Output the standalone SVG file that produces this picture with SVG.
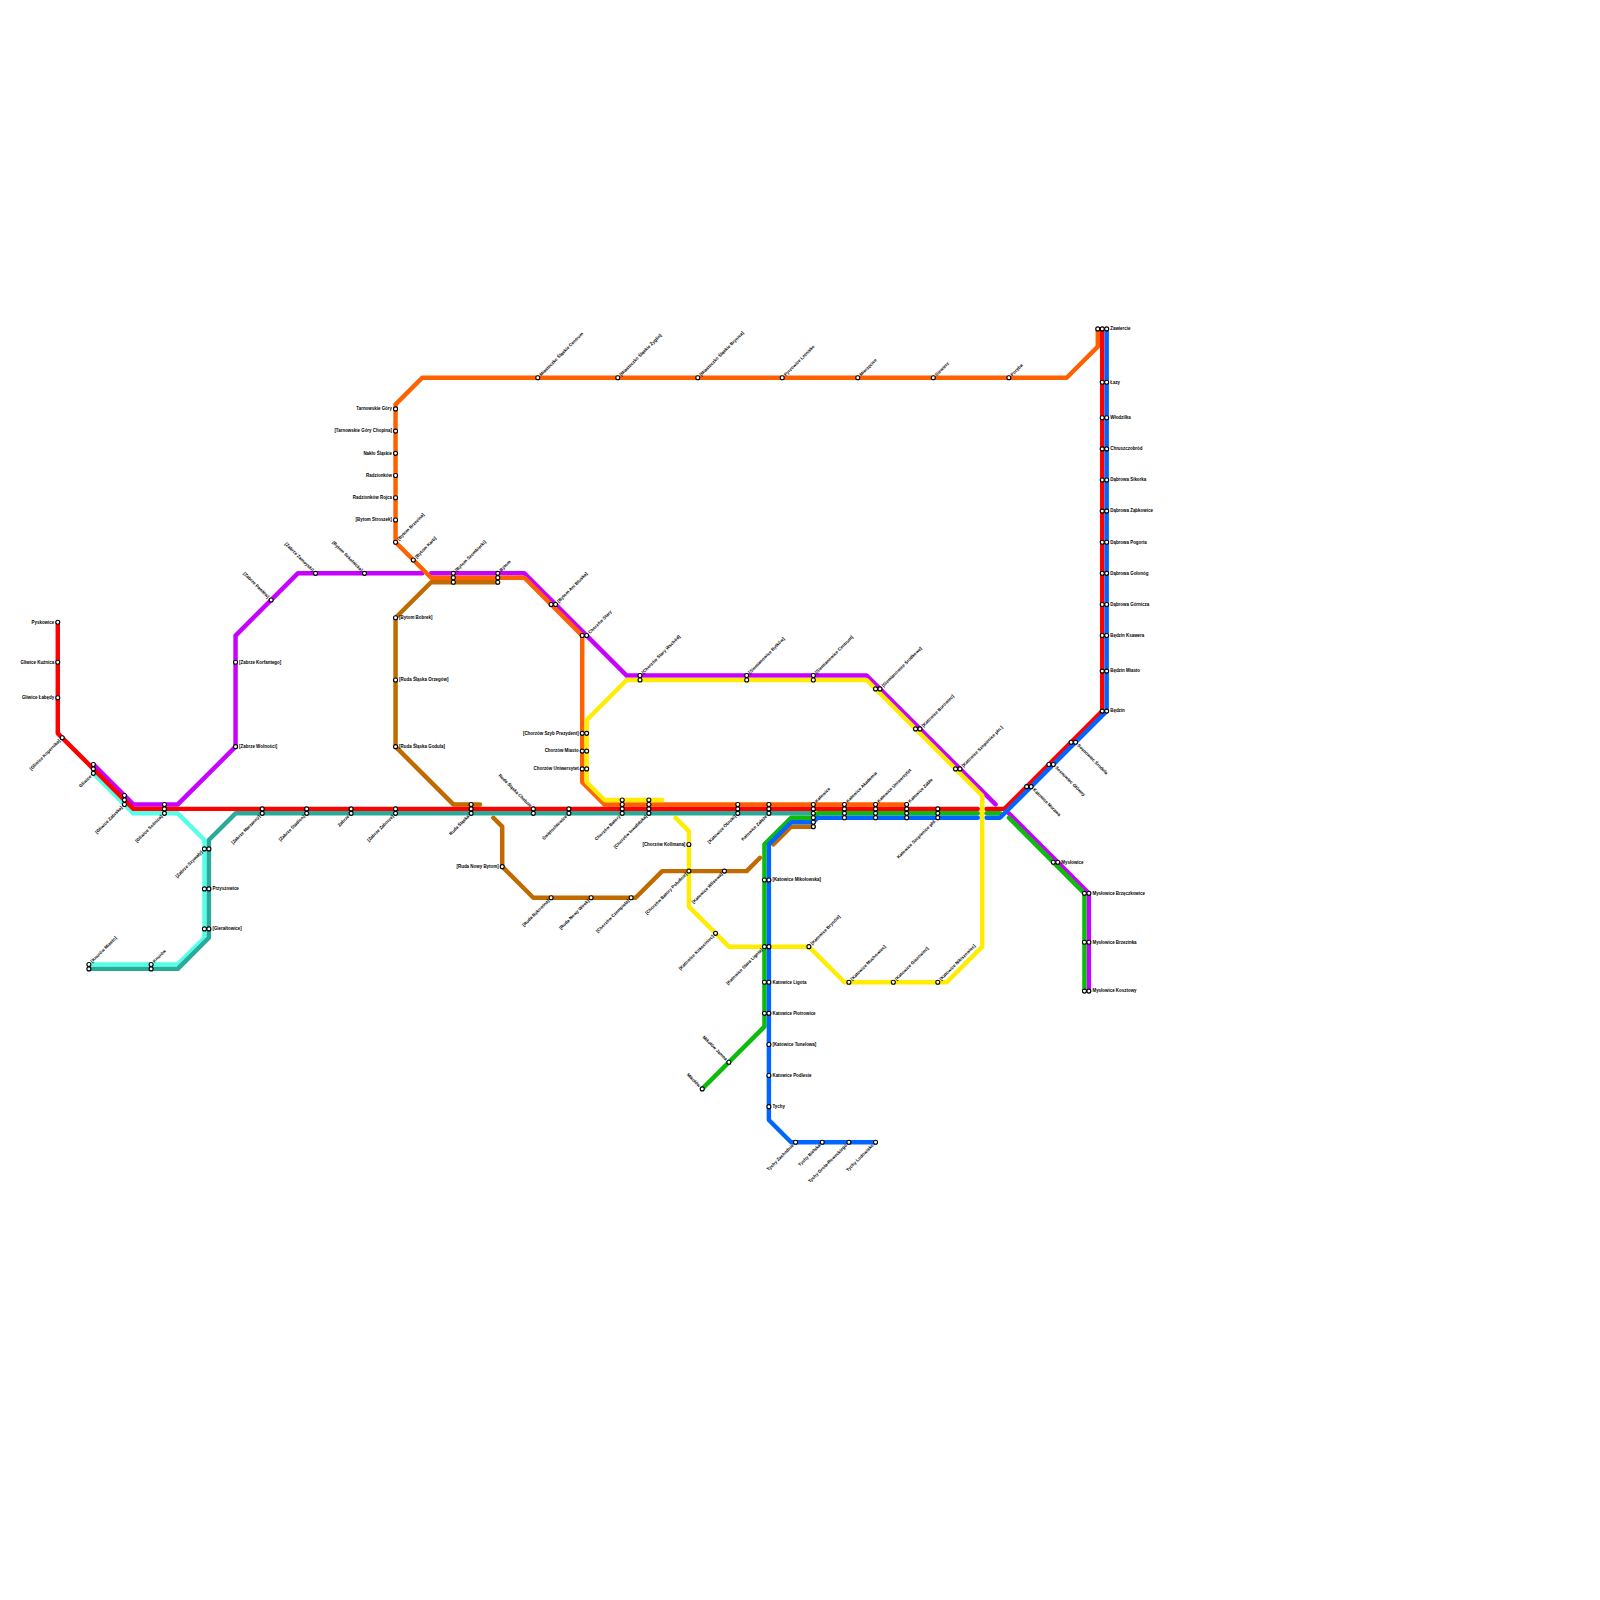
<svg xmlns="http://www.w3.org/2000/svg" width="1600" height="1600" viewBox="0 0 1600 1600">
<style>
.ln{fill:none;stroke-width:1;stroke-linecap:round;stroke-linejoin:round}
.s{fill:#fff;stroke:#000;stroke-width:.25}
text{font-family:"Liberation Sans",Arial,sans-serif;font-weight:700;font-size:1px;fill:#000}
.R{text-anchor:start}
.L{text-anchor:end}
#nodes{opacity:.999}
</style>
<defs><circle id="c" class="s" r=".45"/></defs>
<rect width="1600" height="1600" fill="#fff"/>
<g transform="scale(4.44444)">
<g id="connectors">
<g class="ln" stroke="#c800ff">
<polyline points="21,172 30,181 40,181 53,168 53,143 67,129 95,129"/>
<polyline points="97,129 118,129 132,143 141,152 195,152 224,181"/>
<polyline points="227,183 245,201 245,223"/>
</g>
<g class="ln" stroke="#ff6000">
<polyline points="247,74 247,78 240,85 95,85 89,91 89,122 97,130 118,130 131,143 131,176 136,181 204,181"/>
</g>
<g class="ln" stroke="#c06a00">
<polyline points="112,131 97,131 89,139 89,168 102,181 108,181"/>
<polyline points="111,184 113,186 113,195 120,202 143,202 149,196 168,196 171,193"/>
<polyline points="174,190 178,186 183,186"/>
</g>
<g class="ln" stroke="#ffec00">
<polyline points="149,180 136,180 132,176 132,162 141,153 195,153 221,179 221,213 213,221 190,221 182,213 164,213 155,204 155,187 152,184"/>
</g>
<g class="ln" stroke="#55ffe8">
<polyline points="21,174 30,183 40,183 46,189 46,211 40,217 20,217"/>
</g>
<g class="ln" stroke="#2aaa99">
<polyline points="20,218 40,218 47,211 47,189 53,183 183,183"/>
</g>
<g class="ln" stroke="#ff0000">
<polyline points="13,140 13,165 30,182 220,182"/>
<polyline points="222,182 226,182 248,160 248,74"/>
</g>
<g class="ln" stroke="#0cbb0c">
<polyline points="158,245 172,231 172,190 178,184 183,184 184,183 220,183"/>
<polyline points="222,183 225,183"/>
<polyline points="227,184 244,201 244,223"/>
</g>
<g class="ln" stroke="#0066ff">
<polyline points="197,257 178,257 173,252 173,190 178,185 183,185 184,184 220,184"/>
<polyline points="222,184 225,184 249,160 249,74"/>
</g>
</g>
<g id="nodes">
<g id="n1" transform="translate(13,140)"><use href="#c"/><text class="L" x="-.8" y=".3">Pyskowice</text></g>
<g id="n2" transform="translate(13,149)"><use href="#c"/><text class="L" x="-.8" y=".3">Gliwice Kuźnica</text></g>
<g id="n3" transform="translate(13,157)"><use href="#c"/><text class="L" x="-.8" y=".3">Gliwice Łabędy</text></g>
<g id="n4" transform="translate(14,166)"><use href="#c"/><text class="L" transform="rotate(-45)" x="-.8" y=".3">[Gliwice Kopernika]</text></g>
<g id="n5" transform="translate(21,174)"><use href="#c"/><use href="#c" y="-1"/><use href="#c" y="-2"/><text class="L" transform="rotate(-45)" x="-.8" y=".3">Gliwice</text></g>
<g id="n6" transform="translate(28,181)"><use href="#c"/><use href="#c" y="-1"/><use href="#c" y="-2"/><text class="L" transform="rotate(-45)" x="-.8" y=".3">[Gliwice Zabrska]</text></g>
<g id="n7" transform="translate(37,183)"><use href="#c"/><use href="#c" y="-1"/><use href="#c" y="-2"/><text class="L" transform="rotate(-45)" x="-.8" y=".3">[Gliwice Sośnica]</text></g>
<g id="n8" transform="translate(59,183)"><use href="#c"/><use href="#c" y="-1"/><text class="L" transform="rotate(-45)" x="-.8" y=".3">[Zabrze Marzanny]</text></g>
<g id="n9" transform="translate(69,183)"><use href="#c"/><use href="#c" y="-1"/><text class="L" transform="rotate(-45)" x="-.8" y=".3">[Zabrze Stadion]</text></g>
<g id="n10" transform="translate(79,183)"><use href="#c"/><use href="#c" y="-1"/><text class="L" transform="rotate(-45)" x="-.8" y=".3">Zabrze</text></g>
<g id="n11" transform="translate(89,183)"><use href="#c"/><use href="#c" y="-1"/><text class="L" transform="rotate(-45)" x="-.8" y=".3">[Zabrze Zaborze]</text></g>
<g id="n12" transform="translate(106,183)"><use href="#c"/><use href="#c" y="-1"/><use href="#c" y="-2"/><text class="L" transform="rotate(-45)" x="-.8" y=".3">Ruda Śląska</text></g>
<g id="n13" transform="translate(120,182)"><use href="#c"/><use href="#c" y="1"/><text class="L" transform="rotate(45)" x="-.8" y=".3">Ruda Śląska Chebzie</text></g>
<g id="n14" transform="translate(128,183)"><use href="#c"/><use href="#c" y="-1"/><text class="L" transform="rotate(-45)" x="-.8" y=".3">Świętochłowice</text></g>
<g id="n15" transform="translate(140,183)"><use href="#c"/><use href="#c" y="-1"/><use href="#c" y="-2"/><use href="#c" y="-3"/><text class="L" transform="rotate(-45)" x="-.8" y=".3">Chorzów Batory</text></g>
<g id="n16" transform="translate(146,183)"><use href="#c"/><use href="#c" y="-1"/><use href="#c" y="-2"/><use href="#c" y="-3"/><text class="L" transform="rotate(-45)" x="-.8" y=".3">[Chorzów Inwalidzka]</text></g>
<g id="n17" transform="translate(166,183)"><use href="#c"/><use href="#c" y="-1"/><use href="#c" y="-2"/><text class="L" transform="rotate(-45)" x="-.8" y=".3">[Katowice Obroki]</text></g>
<g id="n18" transform="translate(173,183)"><use href="#c"/><use href="#c" y="-1"/><use href="#c" y="-2"/><text class="L" transform="rotate(-45)" x="-.8" y=".3">Katowice Załęże</text></g>
<g id="n19" transform="translate(183,181)"><use href="#c"/><use href="#c" y="1"/><use href="#c" y="2"/><use href="#c" y="3"/><use href="#c" y="4"/><use href="#c" y="5"/><text class="R" transform="rotate(-45)" x=".8" y=".3">Katowice</text></g>
<g id="n20" transform="translate(190,181)"><use href="#c"/><use href="#c" y="1"/><use href="#c" y="2"/><use href="#c" y="3"/><text class="R" transform="rotate(-45)" x=".8" y=".3">Katowice Akademia</text></g>
<g id="n21" transform="translate(197,181)"><use href="#c"/><use href="#c" y="1"/><use href="#c" y="2"/><use href="#c" y="3"/><text class="R" transform="rotate(-45)" x=".8" y=".3">Katowice Uniwersytet</text></g>
<g id="n22" transform="translate(204,181)"><use href="#c"/><use href="#c" y="1"/><use href="#c" y="2"/><use href="#c" y="3"/><text class="R" transform="rotate(-45)" x=".8" y=".3">Katowice Zabłe</text></g>
<g id="n23" transform="translate(211,184)"><use href="#c"/><use href="#c" y="-1"/><use href="#c" y="-2"/><text class="L" transform="rotate(-45)" x="-.8" y=".3">Katowice Szopienice płd.</text></g>
<g id="n24" transform="translate(232,177)"><use href="#c"/><use href="#c" x="-1"/><text class="R" transform="rotate(45)" x=".8" y=".3">Katowice Morawa</text></g>
<g id="n25" transform="translate(237,172)"><use href="#c"/><use href="#c" x="-1"/><text class="R" transform="rotate(45)" x=".8" y=".3">Sosnowiec Główny</text></g>
<g id="n26" transform="translate(242,167)"><use href="#c"/><use href="#c" x="-1"/><text class="R" transform="rotate(45)" x=".8" y=".3">Sosnowiec Środula</text></g>
<g id="n27" transform="translate(249,160)"><use href="#c"/><use href="#c" x="-1"/><text class="R" x=".8" y=".3">Będzin</text></g>
<g id="n28" transform="translate(249,151)"><use href="#c"/><use href="#c" x="-1"/><text class="R" x=".8" y=".3">Będzin Miasto</text></g>
<g id="n29" transform="translate(249,143)"><use href="#c"/><use href="#c" x="-1"/><text class="R" x=".8" y=".3">Będzin Ksawera</text></g>
<g id="n30" transform="translate(249,136)"><use href="#c"/><use href="#c" x="-1"/><text class="R" x=".8" y=".3">Dąbrowa Górnicza</text></g>
<g id="n31" transform="translate(249,129)"><use href="#c"/><use href="#c" x="-1"/><text class="R" x=".8" y=".3">Dąbrowa Gołonóg</text></g>
<g id="n32" transform="translate(249,122)"><use href="#c"/><use href="#c" x="-1"/><text class="R" x=".8" y=".3">Dąbrowa Pogoria</text></g>
<g id="n33" transform="translate(249,115)"><use href="#c"/><use href="#c" x="-1"/><text class="R" x=".8" y=".3">Dąbrowa Ząbkowice</text></g>
<g id="n34" transform="translate(249,108)"><use href="#c"/><use href="#c" x="-1"/><text class="R" x=".8" y=".3">Dąbrowa Sikorka</text></g>
<g id="n35" transform="translate(249,101)"><use href="#c"/><use href="#c" x="-1"/><text class="R" x=".8" y=".3">Chruszczobród</text></g>
<g id="n36" transform="translate(249,94)"><use href="#c"/><use href="#c" x="-1"/><text class="R" x=".8" y=".3">Włodzilka</text></g>
<g id="n37" transform="translate(249,86)"><use href="#c"/><use href="#c" x="-1"/><text class="R" x=".8" y=".3">Łazy</text></g>
<g id="n38" transform="translate(249,74)"><use href="#c"/><use href="#c" x="-1"/><use href="#c" x="-2"/><text class="R" x=".8" y=".3">Zawiercie</text></g>
<g id="n39" transform="translate(238,194)"><use href="#c"/><use href="#c" x="-1"/><text class="R" x=".8" y=".3">Mysłowice</text></g>
<g id="n40" transform="translate(245,201)"><use href="#c"/><use href="#c" x="-1"/><text class="R" x=".8" y=".3">Mysłowice Brzęczkowice</text></g>
<g id="n41" transform="translate(245,212)"><use href="#c"/><use href="#c" x="-1"/><text class="R" x=".8" y=".3">Mysłowice Brzezinka</text></g>
<g id="n42" transform="translate(245,223)"><use href="#c"/><use href="#c" x="-1"/><text class="R" x=".8" y=".3">Mysłowice Kosztowy</text></g>
<g id="n43" transform="translate(46,191)"><use href="#c"/><use href="#c" x="1"/><text class="L" transform="rotate(-45)" x="-.8" y=".3">[Zabrze Szymały]</text></g>
<g id="n44" transform="translate(47,200)"><use href="#c"/><use href="#c" x="-1"/><text class="R" x=".8" y=".3">Przyszowice</text></g>
<g id="n45" transform="translate(47,209)"><use href="#c"/><use href="#c" x="-1"/><text class="R" x=".8" y=".3">[Gierałtowice]</text></g>
<g id="n46" transform="translate(20,217)"><use href="#c"/><use href="#c" y="1"/><text class="R" transform="rotate(-45)" x=".8" y=".3">[Knurów Miasto]</text></g>
<g id="n47" transform="translate(34,217)"><use href="#c"/><use href="#c" y="1"/><text class="R" transform="rotate(-45)" x=".8" y=".3">Knurów</text></g>
<g id="n48" transform="translate(53,168)"><use href="#c"/><text class="R" x=".8" y=".3">[Zabrze Wolności]</text></g>
<g id="n49" transform="translate(53,149)"><use href="#c"/><text class="R" x=".8" y=".3">[Zabrze Korfantego]</text></g>
<g id="n50" transform="translate(61,135)"><use href="#c"/><text class="L" transform="rotate(45)" x="-.8" y=".3">[Zabrze Pawłów]</text></g>
<g id="n51" transform="translate(71,129)"><use href="#c"/><text class="L" transform="rotate(45)" x="-.8" y=".3">[Zabrze Zamoyski]</text></g>
<g id="n52" transform="translate(82,129)"><use href="#c"/><text class="L" transform="rotate(45)" x="-.8" y=".3">[Bytom Szkolnicka]</text></g>
<g id="n53" transform="translate(89,92)"><use href="#c"/><text class="L" x="-.8" y=".3">Tarnowskie Góry</text></g>
<g id="n54" transform="translate(89,97)"><use href="#c"/><text class="L" x="-.8" y=".3">[Tarnowskie Góry Chopina]</text></g>
<g id="n55" transform="translate(89,102)"><use href="#c"/><text class="L" x="-.8" y=".3">Nakło Śląskie</text></g>
<g id="n56" transform="translate(89,107)"><use href="#c"/><text class="L" x="-.8" y=".3">Radzionków</text></g>
<g id="n57" transform="translate(89,112)"><use href="#c"/><text class="L" x="-.8" y=".3">Radzionków Rojca</text></g>
<g id="n58" transform="translate(89,117)"><use href="#c"/><text class="L" x="-.8" y=".3">[Bytom Stroszek]</text></g>
<g id="n59" transform="translate(89,122)"><use href="#c"/><text class="R" transform="rotate(-45)" x=".8" y=".3">[Bytom Brzezina]</text></g>
<g id="n60" transform="translate(93,126)"><use href="#c"/><text class="R" transform="rotate(-45)" x=".8" y=".3">[Bytom Karb]</text></g>
<g id="n61" transform="translate(102,129)"><use href="#c"/><use href="#c" y="1"/><use href="#c" y="2"/><text class="R" transform="rotate(-45)" x=".8" y=".3">[Bytom Szombierki]</text></g>
<g id="n62" transform="translate(112,129)"><use href="#c"/><use href="#c" y="1"/><use href="#c" y="2"/><text class="R" transform="rotate(-45)" x=".8" y=".3">Bytom</text></g>
<g id="n63" transform="translate(125,136)"><use href="#c"/><use href="#c" x="-1"/><text class="R" transform="rotate(-45)" x=".8" y=".3">[Bytom Ani Bluska]</text></g>
<g id="n64" transform="translate(132,143)"><use href="#c"/><use href="#c" x="-1"/><text class="R" transform="rotate(-45)" x=".8" y=".3">Chorzów Stary</text></g>
<g id="n65" transform="translate(144,152)"><use href="#c"/><use href="#c" y="1"/><text class="R" transform="rotate(-45)" x=".8" y=".3">[Chorzów Stary Wschód]</text></g>
<g id="n66" transform="translate(168,152)"><use href="#c"/><use href="#c" y="1"/><text class="R" transform="rotate(-45)" x=".8" y=".3">[Siemianowice Bytków]</text></g>
<g id="n67" transform="translate(183,152)"><use href="#c"/><use href="#c" y="1"/><text class="R" transform="rotate(-45)" x=".8" y=".3">[Siemianowice Centrum]</text></g>
<g id="n68" transform="translate(198,155)"><use href="#c"/><use href="#c" x="-1"/><text class="R" transform="rotate(-45)" x=".8" y=".3">[Siemianowice Środkowe]</text></g>
<g id="n69" transform="translate(207,164)"><use href="#c"/><use href="#c" x="-1"/><text class="R" transform="rotate(-45)" x=".8" y=".3">[Katowice Burowiec]</text></g>
<g id="n70" transform="translate(216,173)"><use href="#c"/><use href="#c" x="-1"/><text class="R" transform="rotate(-45)" x=".8" y=".3">[Katowice Szopienice płn.]</text></g>
<g id="n71" transform="translate(131,165)"><use href="#c"/><use href="#c" x="1"/><text class="L" x="-.8" y=".3">[Chorzów Szyb Prezydent]</text></g>
<g id="n72" transform="translate(131,169)"><use href="#c"/><use href="#c" x="1"/><text class="L" x="-.8" y=".3">Chorzów Miasto</text></g>
<g id="n73" transform="translate(131,173)"><use href="#c"/><use href="#c" x="1"/><text class="L" x="-.8" y=".3">Chorzów Uniwersytet</text></g>
<g id="n74" transform="translate(89,139)"><use href="#c"/><text class="R" x=".8" y=".3">[Bytom Bobrek]</text></g>
<g id="n75" transform="translate(89,153)"><use href="#c"/><text class="R" x=".8" y=".3">[Ruda Śląska Orzegów]</text></g>
<g id="n76" transform="translate(89,168)"><use href="#c"/><text class="R" x=".8" y=".3">[Ruda Śląska Godula]</text></g>
<g id="n77" transform="translate(113,195)"><use href="#c"/><text class="L" x="-.8" y=".3">[Ruda Nowy Bytom]</text></g>
<g id="n78" transform="translate(124,202)"><use href="#c"/><text class="L" transform="rotate(-45)" x="-.8" y=".3">[Ruda Bykowina]</text></g>
<g id="n79" transform="translate(133,202)"><use href="#c"/><text class="L" transform="rotate(-45)" x="-.8" y=".3">[Ruda Nowy Wirek]</text></g>
<g id="n80" transform="translate(142,202)"><use href="#c"/><text class="L" transform="rotate(-45)" x="-.8" y=".3">[Chorzów Czempiela]</text></g>
<g id="n81" transform="translate(155,196)"><use href="#c"/><text class="L" transform="rotate(-45)" x="-.8" y=".3">[Chorzów Batory Południe]</text></g>
<g id="n82" transform="translate(155,190)"><use href="#c"/><text class="L" x="-.8" y=".3">[Chorzów Kollmana]</text></g>
<g id="n83" transform="translate(163,196)"><use href="#c"/><text class="L" transform="rotate(-45)" x="-.8" y=".3">[Katowice Wlisowa]</text></g>
<g id="n84" transform="translate(161,210)"><use href="#c"/><text class="L" transform="rotate(-45)" x="-.8" y=".3">[Katowice Kokociniec]</text></g>
<g id="n85" transform="translate(173,198)"><use href="#c"/><use href="#c" x="-1"/><text class="R" x=".8" y=".3">[Katowice Mikołowska]</text></g>
<g id="n86" transform="translate(172,213)"><use href="#c"/><use href="#c" x="1"/><text class="L" transform="rotate(-45)" x="-.8" y=".3">[Katowice Stara Ligota]</text></g>
<g id="n87" transform="translate(173,221)"><use href="#c"/><use href="#c" x="-1"/><text class="R" x=".8" y=".3">Katowice Ligota</text></g>
<g id="n88" transform="translate(173,228)"><use href="#c"/><use href="#c" x="-1"/><text class="R" x=".8" y=".3">Katowice Piotrowice</text></g>
<g id="n89" transform="translate(173,235)"><use href="#c"/><text class="R" x=".8" y=".3">[Katowice Tunelowa]</text></g>
<g id="n90" transform="translate(173,242)"><use href="#c"/><text class="R" x=".8" y=".3">Katowice Podlesie</text></g>
<g id="n91" transform="translate(173,249)"><use href="#c"/><text class="R" x=".8" y=".3">Tychy</text></g>
<g id="n92" transform="translate(179,257)"><use href="#c"/><text class="L" transform="rotate(-45)" x="-.8" y=".3">Tychy Zachodnie</text></g>
<g id="n93" transform="translate(185,257)"><use href="#c"/><text class="L" transform="rotate(-45)" x="-.8" y=".3">Tychy Bielska</text></g>
<g id="n94" transform="translate(191,257)"><use href="#c"/><text class="L" transform="rotate(-45)" x="-.8" y=".3">Tychy Grota-Roweckiego</text></g>
<g id="n95" transform="translate(197,257)"><use href="#c"/><text class="L" transform="rotate(-45)" x="-.8" y=".3">Tychy Lodowisko</text></g>
<g id="n96" transform="translate(164,239)"><use href="#c"/><text class="L" transform="rotate(45)" x="-.8" y=".3">Mikołów Jamna</text></g>
<g id="n97" transform="translate(158,245)"><use href="#c"/><text class="L" transform="rotate(45)" x="-.8" y=".3">Mikołów</text></g>
<g id="n98" transform="translate(182,213)"><use href="#c"/><text class="R" transform="rotate(-45)" x=".8" y=".3">[Katowice Brynów]</text></g>
<g id="n99" transform="translate(191,221)"><use href="#c"/><text class="R" transform="rotate(-45)" x=".8" y=".3">[Katowice Muchowiec]</text></g>
<g id="n100" transform="translate(201,221)"><use href="#c"/><text class="R" transform="rotate(-45)" x=".8" y=".3">[Katowice Giszowiec]</text></g>
<g id="n101" transform="translate(211,221)"><use href="#c"/><text class="R" transform="rotate(-45)" x=".8" y=".3">[Katowice Nikiszowiec]</text></g>
<g id="n102" transform="translate(121,85)"><use href="#c"/><text class="R" transform="rotate(-45)" x=".8" y=".3">Miasteczko Śląskie Centrum</text></g>
<g id="n103" transform="translate(139,85)"><use href="#c"/><text class="R" transform="rotate(-45)" x=".8" y=".3">[Miasteczko Śląskie Żyglin]</text></g>
<g id="n104" transform="translate(157,85)"><use href="#c"/><text class="R" transform="rotate(-45)" x=".8" y=".3">[Miasteczko Śląskie Brynica]</text></g>
<g id="n105" transform="translate(176,85)"><use href="#c"/><text class="R" transform="rotate(-45)" x=".8" y=".3">Pyrzowice Lotnisko</text></g>
<g id="n106" transform="translate(193,85)"><use href="#c"/><text class="R" transform="rotate(-45)" x=".8" y=".3">Mierzęcice</text></g>
<g id="n107" transform="translate(210,85)"><use href="#c"/><text class="R" transform="rotate(-45)" x=".8" y=".3">Siewierz</text></g>
<g id="n108" transform="translate(227,85)"><use href="#c"/><text class="R" transform="rotate(-45)" x=".8" y=".3">Poręba</text></g>
</g>
</g>
</svg>
